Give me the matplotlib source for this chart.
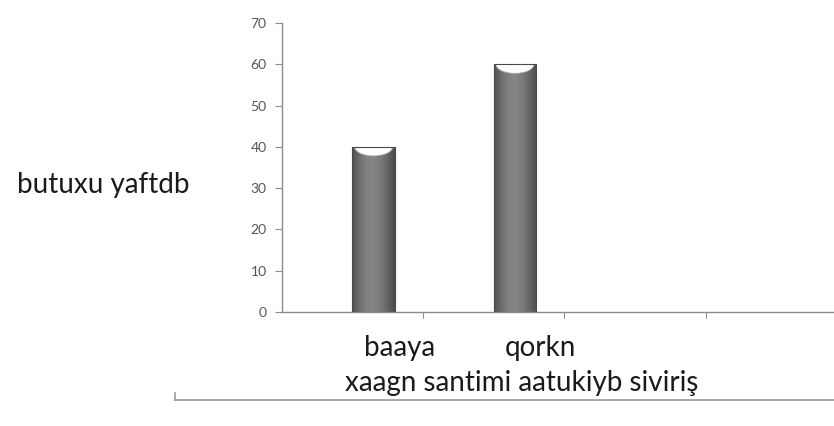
"""Column chart with shaded cylinder-style bars."""

import numpy as np
import matplotlib
matplotlib.use('Agg')
import matplotlib.pyplot as plt
from matplotlib.patches import Ellipse
from matplotlib.lines import Line2D
from matplotlib.colors import LinearSegmentedColormap


categories = ['baaya', 'qorkn']
values = [40, 60]
y_ticks = [0, 10, 20, 30, 40, 50, 60, 70]
y_label = 'butuxu yaftdb'
x_title = 'xaagn santimi aatukiyb siviriş'

AXIS_GREY = '#8c8c8c'
FONT = ['Lato', 'DejaVu Sans']


def shade_bar(ax, rect):
    """Fill a bar with a horizontal grey gradient and a light top cap."""
    x0, w, h = rect.get_x(), rect.get_width(), rect.get_height()
    cmap = LinearSegmentedColormap.from_list(
        'cyl', ['#505050', '#6e6e6e', '#828282', '#858585', '#7a7a7a', '#656565', '#4c4c4c'])
    grad = np.linspace(0, 1, 64).reshape(1, -1)
    im = ax.imshow(grad, cmap=cmap, aspect='auto', extent=[x0, x0 + w, 0, h],
                   zorder=2, interpolation='bilinear')
    im.set_clip_path(rect)
    cap = Ellipse((x0 + w / 2, h), w * 0.9, 4.4, facecolor='white',
                  edgecolor='#a8a8a8', linewidth=0.6, zorder=3)
    ax.add_patch(cap)
    cap.set_clip_path(rect)


fig = plt.figure(figsize=(8.34, 4.26), dpi=100)
ax = fig.add_axes([0.338, 0.2676, 0.662, 0.6784])

positions = np.arange(len(categories)) + 0.5
bars = ax.bar(positions, values, width=0.3, align='edge',
              facecolor='none', edgecolor='#4a4a4a', linewidth=0.8, zorder=4)
for rect in bars:
    shade_bar(ax, rect)

ax.set_xlim(0, 3.91)
ax.set_ylim(0, 70)
ax.set_yticks(y_ticks)
ax.set_yticklabels([str(v) for v in y_ticks], fontsize=10, color='#555555',
                   family=FONT)
ax.set_xticks([1, 2, 3])
ax.set_xticklabels([])
ax.tick_params(axis='y', length=5, color=AXIS_GREY, pad=6)
ax.tick_params(axis='x', length=4, color=AXIS_GREY)

for side in ['top', 'right']:
    ax.spines[side].set_visible(False)
for side in ['left', 'bottom']:
    ax.spines[side].set_color(AXIS_GREY)
    ax.spines[side].set_linewidth(1.0)

# category names sit under the right half of each column
for pos, name in zip(positions, categories):
    ax.text(pos + 0.33, -8.6, name, ha='center', va='center', fontsize=20,
            color='#1a1a1a', family=FONT, clip_on=False)

fig.text(0.124, 0.566, y_label, ha='center', va='center', fontsize=20,
         color='#1a1a1a', family=FONT)
fig.text(0.626, 0.101, x_title, ha='center', va='center', fontsize=20,
         color='#1a1a1a', family=FONT)

# bracket line under the axis title
fig.add_artist(Line2D([0.21, 1.0], [0.061, 0.061], color='#9a9a9a', lw=1.2))
fig.add_artist(Line2D([0.21, 0.21], [0.061, 0.078], color='#9a9a9a', lw=1.2))

fig.savefig('out.png', dpi=100, facecolor='white')
